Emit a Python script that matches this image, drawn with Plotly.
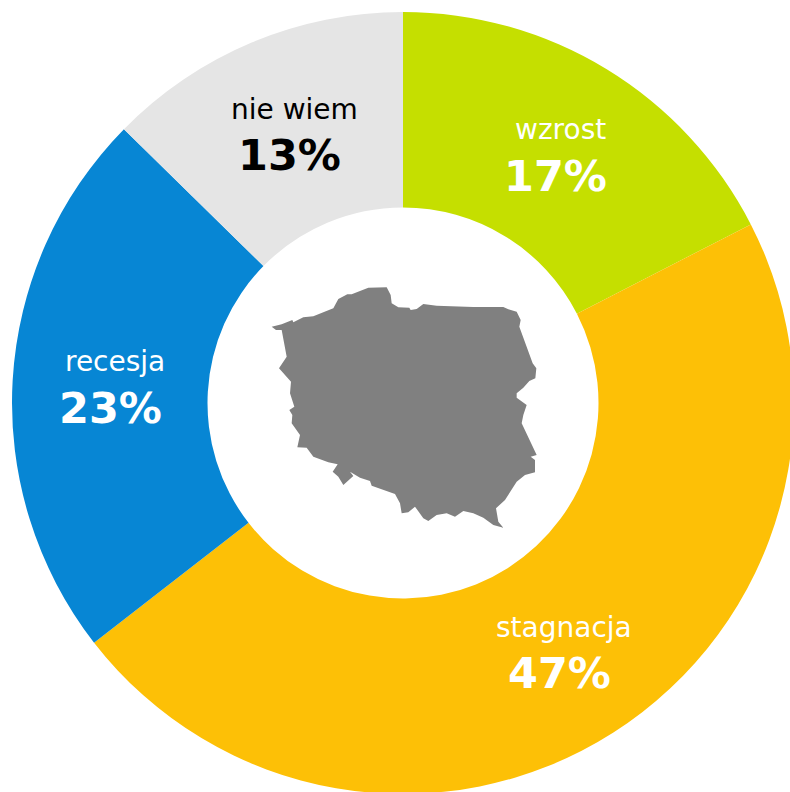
import plotly.graph_objects as go

categories = ["wzrost", "stagnacja", "recesja", "nie wiem"]
values = [17.45, 47.05, 22.85, 12.65]
percent_labels = ["17%", "47%", "23%", "13%"]
colors = ["#C5DF00", "#FDC006", "#0786D4", "#E5E5E5"]
text_colors = ["white", "white", "white", "black"]
name_pos = [(560, 129), (564, 627), (115, 361), (294, 109)]
pct_pos = [(555, 176), (559, 673), (110, 408), (289, 155)]

outline = [(35,155),(65,148),(97,135),(100,142),(130,127),(160,124),(190,112),(220,100),(235,72),(262,58),
(275,58),(300,48),(325,38),(380,37),(392,60),(395,85),(415,97),(448,98),(452,105),(470,102),(490,87),
(530,92),(640,96),(730,96),(745,103),(770,110),(782,135),(778,155),(785,175),(800,215),(818,265),(829,280),
(826,310),(808,318),(790,338),(770,355),(770,368),(800,390),(790,420),(785,445),(795,465),(805,490),(830,540),
(812,545),(825,555),(825,592),(795,600),(770,620),(750,650),(735,675),(708,700),(715,740),(730,758),(700,750),
(670,728),(640,715),(610,708),(585,725),(560,715),(530,720),(505,738),(490,730),(465,695),(445,712),(425,715),
(420,685),(405,657),(370,645),(335,632),(330,618),(300,608),(270,590),(280,603),(250,630),(235,605),(218,590),
(233,568),(205,562),(160,545),(140,518),(112,517),(120,480),(95,445),(97,420),(88,405),(103,395),(90,355),
(93,320),(75,300),(57,280),(80,245),(72,200),(65,165),(48,165),(35,155)]
map_x = [260 + p[0] / 3 for p in outline]
map_y = [275 + p[1] / 3 for p in outline]

W = 806
cx, cy, R = 403, 403, 391

fig = go.Figure()
fig.add_trace(go.Scatter(x=map_x, y=map_y, mode="lines", fill="toself", fillcolor="#808080",
                         line=dict(color="#808080", width=0), hoverinfo="skip", showlegend=False))
fig.add_trace(go.Pie(labels=categories, values=values, sort=False, direction="clockwise", rotation=0,
                     hole=0.5, marker=dict(colors=colors, line=dict(width=0)), textinfo="none",
                     domain=dict(x=[(cx - R) / W, (cx + R) / W], y=[(W - cy - R) / W, (W - cy + R) / W]),
                     showlegend=False))

for name, pct, tc, np_, pp in zip(categories, percent_labels, text_colors, name_pos, pct_pos):
    fig.add_annotation(x=np_[0], y=np_[1], text=name, showarrow=False, xanchor="center", yanchor="middle",
                       font=dict(family="DejaVu Sans", size=28, color=tc))
    fig.add_annotation(x=pp[0], y=pp[1], text="<b>" + pct + "</b>", showarrow=False, xanchor="center", yanchor="middle",
                       font=dict(family="DejaVu Sans", size=43, color=tc))

fig.update_layout(width=W, height=W, margin=dict(l=0, r=0, t=0, b=0), paper_bgcolor="white", plot_bgcolor="rgba(0,0,0,0)",
                  xaxis=dict(range=[0, W], visible=False, fixedrange=True, domain=[0, 1]),
                  yaxis=dict(range=[W, 0], visible=False, fixedrange=True, domain=[0, 1]))

fig.write_html("out.html", config=dict(displayModeBar=False),
               post_script="document.documentElement.style.overflow='hidden';document.body.style.overflow='hidden';document.body.style.margin='0';")
